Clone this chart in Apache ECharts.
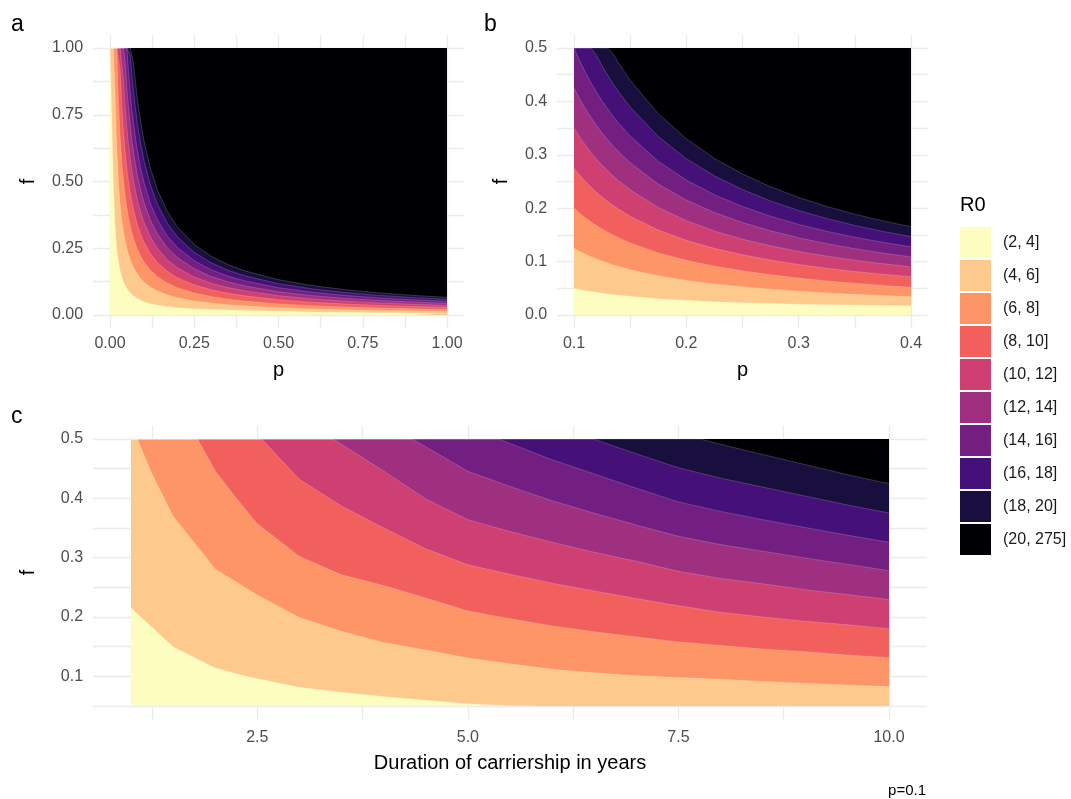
<!DOCTYPE html>
<html>
<head>
<meta charset="utf-8">
<title>R0 contours</title>
<script src="https://cdn.jsdelivr.net/npm/echarts@6/dist/echarts.min.js"></script>
<style>
html, body { margin: 0; padding: 0; background: #fff; }
#main { width: 1071px; height: 799px; }
</style>
</head>
<body>
<div id="main"></div>
<script>
// R0 classes, magma palette reversed
var classes = ['(2, 4]', '(4, 6]', '(6, 8]', '(8, 10]', '(10, 12]', '(12, 14]', '(14, 16]', '(16, 18]', '(18, 20]', '(20, 275]'];
var colours = ['#FCFDBF', '#FEC98D', '#FD9567', '#F1605D', '#CD4071', '#9F2F7F', '#721F81', '#451077', '#180F3E', '#000004'];

// panel a: f on each class boundary (R0 = 4, 6, ... 20), read at these p
var pA = [0, 0.005, 0.01, 0.015, 0.02, 0.025, 0.03, 0.035, 0.04, 0.045, 0.05, 0.055, 0.06, 0.065, 0.07, 0.08, 0.09, 0.1, 0.12, 0.14, 0.17, 0.2, 0.25, 0.3, 0.35, 0.4, 0.5, 0.6, 0.7, 0.8, 0.9, 1];
var a4 = [1, 1, 0.5, 0.333, 0.25, 0.2, 0.167, 0.143, 0.125, 0.111, 0.1, 0.091, 0.083, 0.077, 0.071, 0.063, 0.056, 0.05, 0.0424, 0.0371, 0.0314, 0.0274, 0.0228, 0.0203, 0.0186, 0.0173, 0.0138, 0.0115, 0.0099, 0.0086, 0.0077, 0.0069];
var a6 = [1, 1, 1, 0.833, 0.625, 0.5, 0.417, 0.357, 0.313, 0.278, 0.25, 0.227, 0.208, 0.192, 0.179, 0.156, 0.139, 0.125, 0.1049, 0.0906, 0.0755, 0.0648, 0.0528, 0.0446, 0.0387, 0.0343, 0.0274, 0.0228, 0.0196, 0.0171, 0.0152, 0.0137];
var a8 = [1, 1, 1, 1, 1, 0.8, 0.667, 0.571, 0.5, 0.444, 0.4, 0.364, 0.333, 0.308, 0.286, 0.25, 0.222, 0.2, 0.1674, 0.1442, 0.1195, 0.1023, 0.0828, 0.0691, 0.0593, 0.052, 0.0416, 0.0347, 0.0297, 0.026, 0.0231, 0.0208];
var a10 = [1, 1, 1, 1, 1, 1, 0.917, 0.786, 0.688, 0.611, 0.55, 0.5, 0.458, 0.423, 0.393, 0.344, 0.306, 0.275, 0.2299, 0.1978, 0.1636, 0.1398, 0.1128, 0.0946, 0.0815, 0.0718, 0.0574, 0.0478, 0.041, 0.0359, 0.0319, 0.0287];
var a12 = [1, 1, 1, 1, 1, 1, 1, 1, 0.875, 0.778, 0.7, 0.636, 0.583, 0.538, 0.5, 0.438, 0.389, 0.35, 0.2922, 0.2509, 0.2071, 0.1767, 0.142, 0.119, 0.1026, 0.0903, 0.0722, 0.0602, 0.0516, 0.0451, 0.0401, 0.0361];
var a14 = [1, 1, 1, 1, 1, 1, 1, 1, 1, 0.944, 0.85, 0.773, 0.708, 0.654, 0.607, 0.531, 0.472, 0.425, 0.3551, 0.3051, 0.2518, 0.2152, 0.1732, 0.1446, 0.1241, 0.1088, 0.087, 0.0725, 0.0621, 0.0544, 0.0483, 0.0435];
var a16 = [1, 1, 1, 1, 1, 1, 1, 1, 1, 1, 1, 0.909, 0.833, 0.769, 0.714, 0.625, 0.556, 0.5, 0.4176, 0.3587, 0.2959, 0.2527, 0.2032, 0.1697, 0.1457, 0.1278, 0.1022, 0.0852, 0.073, 0.0639, 0.0568, 0.0511];
var a18 = [1, 1, 1, 1, 1, 1, 1, 1, 1, 1, 1, 1, 0.972, 0.897, 0.833, 0.729, 0.648, 0.583, 0.4863, 0.4172, 0.3436, 0.2928, 0.2348, 0.1957, 0.1677, 0.1468, 0.1174, 0.0978, 0.0839, 0.0734, 0.0652, 0.0587];
var a20 = [1, 1, 1, 1, 1, 1, 1, 1, 1, 1, 1, 1, 1, 1, 0.94, 0.823, 0.731, 0.658, 0.5491, 0.4709, 0.3879, 0.33, 0.264, 0.2201, 0.1888, 0.1653, 0.1322, 0.1102, 0.0944, 0.0826, 0.0734, 0.0661];

// panel b: same boundaries, zoomed in
var pB = [0.1, 0.105, 0.11, 0.115, 0.12, 0.125, 0.13, 0.135, 0.14, 0.15, 0.175, 0.2, 0.225, 0.25, 0.275, 0.3, 0.325, 0.35, 0.375, 0.4];
var b4 = [0.05, 0.0478, 0.0459, 0.0441, 0.0424, 0.041, 0.0395, 0.0383, 0.0371, 0.0349, 0.0306, 0.0274, 0.0248, 0.0228, 0.0215, 0.0203, 0.0194, 0.0186, 0.0179, 0.0173];
var b6 = [0.125, 0.1193, 0.1141, 0.1093, 0.1049, 0.1009, 0.0972, 0.0938, 0.0906, 0.0849, 0.0734, 0.0648, 0.0581, 0.0528, 0.0483, 0.0446, 0.0414, 0.0387, 0.0363, 0.0343];
var b8 = [0.2, 0.1907, 0.1822, 0.1745, 0.1674, 0.1609, 0.1549, 0.1494, 0.1442, 0.1349, 0.1163, 0.1023, 0.0915, 0.0828, 0.0753, 0.0691, 0.0638, 0.0593, 0.0554, 0.052];
var b10 = [0.275, 0.2621, 0.2505, 0.2397, 0.2299, 0.2209, 0.2126, 0.2049, 0.1978, 0.1849, 0.1591, 0.1398, 0.1248, 0.1128, 0.1028, 0.0946, 0.0875, 0.0815, 0.0763, 0.0718];
var b12 = [0.35, 0.3335, 0.3185, 0.3048, 0.2922, 0.2807, 0.27, 0.2601, 0.2509, 0.2344, 0.2014, 0.1767, 0.1574, 0.142, 0.1295, 0.119, 0.1102, 0.1026, 0.096, 0.0903];
var b14 = [0.425, 0.405, 0.3868, 0.3703, 0.3551, 0.3411, 0.3282, 0.3162, 0.3051, 0.2851, 0.2451, 0.2152, 0.1919, 0.1732, 0.1576, 0.1446, 0.1335, 0.1241, 0.1159, 0.1088];
var b16 = [0.5, 0.4764, 0.455, 0.4355, 0.4176, 0.4011, 0.3858, 0.3718, 0.3587, 0.3351, 0.288, 0.2527, 0.2252, 0.2032, 0.1849, 0.1697, 0.1568, 0.1457, 0.1361, 0.1278];
var b18 = [0.5, 0.5, 0.5, 0.5, 0.4863, 0.4669, 0.4491, 0.4325, 0.4172, 0.3895, 0.3343, 0.2928, 0.2606, 0.2348, 0.2135, 0.1957, 0.1806, 0.1677, 0.1565, 0.1468];
var b20 = [0.5, 0.5, 0.5, 0.5, 0.5, 0.5, 0.5, 0.4883, 0.4709, 0.4395, 0.377, 0.33, 0.2932, 0.264, 0.2401, 0.2201, 0.2032, 0.1888, 0.1762, 0.1653];

// panel c (p=0.1): boundaries as [duration, f]
var c4 = [[1, 0.215], [1.5, 0.15], [2, 0.114], [2.37, 0.1], [3, 0.0816], [3.5, 0.073], [4, 0.066], [4.5, 0.0595], [5, 0.054], [5.5, 0.0505], [5.8, 0.05]];
var c6 = [[1, 0.5], [1.075, 0.5], [1.25, 0.441], [1.5, 0.37], [2, 0.281], [2.5, 0.237], [3, 0.199], [3.5, 0.176], [4, 0.157], [4.5, 0.1445], [5, 0.131], [5.5, 0.121], [6, 0.112], [6.5, 0.106], [7, 0.101], [7.5, 0.098], [8, 0.095], [8.5, 0.0915], [9, 0.0885], [9.5, 0.0855], [10, 0.0827]];
var c8 = [[1, 0.5], [1.79, 0.5], [2, 0.446], [2.25, 0.4], [2.5, 0.357], [3, 0.302], [3.5, 0.271], [4, 0.253], [4.5, 0.232], [5, 0.21], [5.5, 0.197], [6, 0.185], [6.5, 0.175], [7, 0.1665], [7.5, 0.158], [8, 0.152], [8.5, 0.146], [9, 0.1415], [9.5, 0.136], [10, 0.1315]];
var c10 = [[1, 0.5], [2.55, 0.5], [3, 0.432], [3.5, 0.387], [4, 0.35], [4.5, 0.315], [5, 0.288], [5.5, 0.272], [6, 0.257], [6.5, 0.244], [7, 0.231], [7.5, 0.219], [8, 0.208], [8.5, 0.2], [9, 0.193], [9.5, 0.187], [10, 0.1804]];
var c12 = [[1, 0.5], [3.4, 0.5], [4, 0.446], [4.5, 0.399], [5, 0.364], [5.5, 0.344], [6, 0.326], [6.5, 0.309], [7, 0.294], [7.5, 0.277], [8, 0.265], [8.5, 0.256], [9, 0.246], [9.5, 0.238], [10, 0.2293]];
var c14 = [[1, 0.5], [4.33, 0.5], [4.5, 0.487], [5, 0.4455], [5.5, 0.42], [6, 0.396], [6.5, 0.375], [7, 0.355], [7.5, 0.336], [8, 0.322], [8.5, 0.311], [9, 0.2995], [9.5, 0.289], [10, 0.2781]];
var c16 = [[1, 0.5], [5.36, 0.5], [5.5, 0.4925], [6, 0.465], [6.5, 0.441], [7, 0.417], [7.5, 0.394], [8, 0.378], [8.5, 0.364], [9, 0.351], [9.5, 0.338], [10, 0.3259]];
var c18 = [[1, 0.5], [6.49, 0.5], [7, 0.475], [7.5, 0.4515], [8, 0.434], [8.5, 0.419], [9, 0.404], [9.5, 0.389], [10, 0.3753]];
var c20 = [[1, 0.5], [7.76, 0.5], [8, 0.491], [8.5, 0.474], [9, 0.457], [9.5, 0.44], [10, 0.4247]];

// tick labels and grid lines
var labA = [0, 0.25, 0.5, 0.75, 1];
var gridA = [0, 0.125, 0.25, 0.375, 0.5, 0.625, 0.75, 0.875, 1];
var labBx = [0.1, 0.2, 0.3, 0.4];
var gridBx = [0.1, 0.15, 0.2, 0.25, 0.3, 0.35, 0.4];
var labBy = [0, 0.1, 0.2, 0.3, 0.4, 0.5];
var gridBy = [0, 0.05, 0.1, 0.15, 0.2, 0.25, 0.3, 0.35, 0.4, 0.45, 0.5];
var labCx = [2.5, 5, 7.5, 10];
var gridCx = [1.25, 2.5, 3.75, 5, 6.25, 7.5, 8.75, 10];
var labCy = [0.1, 0.2, 0.3, 0.4, 0.5];
var gridCy = [0.05, 0.1, 0.15, 0.2, 0.25, 0.3, 0.35, 0.4, 0.45, 0.5];

var FONT = 'Liberation Sans, Arial, Helvetica, sans-serif';

function zip(xs, ys) {
	return xs.map(function(x, i) { return [x, ys[i]]; });
}

function band(points, colour, gi, origin, seam) {
	return {
		type: 'line',
		xAxisIndex: gi,
		yAxisIndex: gi,
		data: points,
		symbol: 'none',
		showSymbol: false,
		silent: true,
		animation: false,
		legendHoverLink: false,
		lineStyle: seam ? { color: 'rgba(255,255,255,0.3)', width: 0.6 } : { width: 0, opacity: 0 },
		areaStyle: { color: colour, opacity: 1, origin: origin },
		z: 2
	};
}

// draw the highest class as a full rectangle, then each lower class over it
function panel(bounds, x0, x1, top, bottom, gi) {
	var out = [band([[x0, top], [x1, top]], colours[9], gi, bottom, false)];
	for (var k = bounds.length - 1; k >= 0; k--) {
		out.push(band(bounds[k], colours[k], gi, bottom, true));
	}
	return out;
}

function xAxis(gi, min, max, labs, grid, fmt, name, margin, gap) {
	return {
		gridIndex: gi, type: 'value', min: min, max: max,
		axisLine: { show: false },
		axisTick: { show: false, customValues: grid },
		axisLabel: { customValues: labs, formatter: fmt, color: '#4D4D4D', fontSize: 16, margin: margin, fontFamily: FONT },
		splitLine: { show: true, lineStyle: { color: '#EBEBEB', width: 1.3 } },
		name: name, nameLocation: 'middle', nameGap: gap,
		nameTextStyle: { fontSize: 20, color: '#000', fontFamily: FONT }
	};
}

function yAxis(gi, min, max, labs, grid, fmt, gap) {
	return {
		gridIndex: gi, type: 'value', min: min, max: max,
		axisLine: { show: false },
		axisTick: { show: false, customValues: grid },
		axisLabel: { customValues: labs, formatter: fmt, color: '#4D4D4D', fontSize: 16, margin: 10, fontFamily: FONT },
		splitLine: { show: true, lineStyle: { color: '#EBEBEB', width: 1.3 } },
		name: 'f', nameLocation: 'middle', nameGap: gap,
		nameTextStyle: { fontSize: 20, color: '#000', fontFamily: FONT }
	};
}

function f1(v) { return v.toFixed(1); }
function f2(v) { return v.toFixed(2); }

var series = [];
// legend keys
classes.forEach(function(c, i) {
	series.push({ type: 'bar', name: c, data: [], xAxisIndex: 0, yAxisIndex: 0, itemStyle: { color: colours[i] } });
});
series = series.concat(
	panel([a4, a6, a8, a10, a12, a14, a16, a18, a20].map(function(ys) { return zip(pA, ys); }), 0, 1, 1, 0, 0),
	panel([b4, b6, b8, b10, b12, b14, b16, b18, b20].map(function(ys) { return zip(pB, ys); }), 0.1, 0.4, 0.5, 0, 1),
	panel([c4, c6, c8, c10, c12, c14, c16, c18, c20], 1, 10, 0.5, 0.05, 2)
);

var tagStyle = { fontSize: 23, fontWeight: 'normal', color: '#000', fontFamily: FONT };

var option = {
	backgroundColor: '#fff',
	animation: false,
	textStyle: { fontFamily: FONT },
	title: [
		{ text: 'a', left: 11, top: 13, padding: 0, textStyle: tagStyle },
		{ text: 'b', left: 484, top: 13, padding: 0, textStyle: tagStyle },
		{ text: 'c', left: 11, top: 405, padding: 0, textStyle: tagStyle },
		{ text: 'R0', left: 960, top: 195, padding: 0, textStyle: { fontSize: 20, fontWeight: 'normal', color: '#000', fontFamily: FONT } },
		{ text: 'p=0.1', right: 145, top: 783, padding: 0, textStyle: { fontSize: 15, fontWeight: 'normal', color: '#000', fontFamily: FONT } }
	],
	legend: {
		data: classes,
		orient: 'vertical',
		left: 960,
		top: 227,
		padding: 0,
		itemWidth: 31,
		itemHeight: 31,
		itemGap: 2,
		icon: 'rect',
		selectedMode: false,
		textStyle: { fontSize: 16, color: '#1A1A1A', fontFamily: FONT, padding: [0, 0, 0, 7] }
	},
	// grids placed so panel edges fall on whole pixels
	grid: [
		{ left: 93.15, top: 34.65, width: 370.7, height: 293.7, containLabel: false, outerBoundsMode: 'none' },
		{ left: 557.15, top: 34.65, width: 370.7, height: 293.7, containLabel: false, outerBoundsMode: 'none' },
		{ left: 93.1, top: 425.65, width: 833.8, height: 293.7, containLabel: false, outerBoundsMode: 'none' }
	],
	xAxis: [
		xAxis(0, -0.05, 1.05, labA, gridA, f2, 'p', 7, 32),
		xAxis(1, 0.085, 0.415, labBx, gridBx, f1, 'p', 7, 32),
		xAxis(2, 0.55, 10.45, labCx, gridCx, f1, 'Duration of carriership in years', 10, 34)
	],
	yAxis: [
		yAxis(0, -0.05, 1.05, labA, gridA, f2, 55),
		yAxis(1, -0.025, 0.525, labBy, gridBy, f1, 46),
		yAxis(2, 0.0275, 0.5225, labCy, gridCy, f1, 55)
	],
	series: series
};

var chart = echarts.init(document.getElementById('main'), null, { renderer: 'canvas' });
chart.setOption(option);
</script>
</body>
</html>
